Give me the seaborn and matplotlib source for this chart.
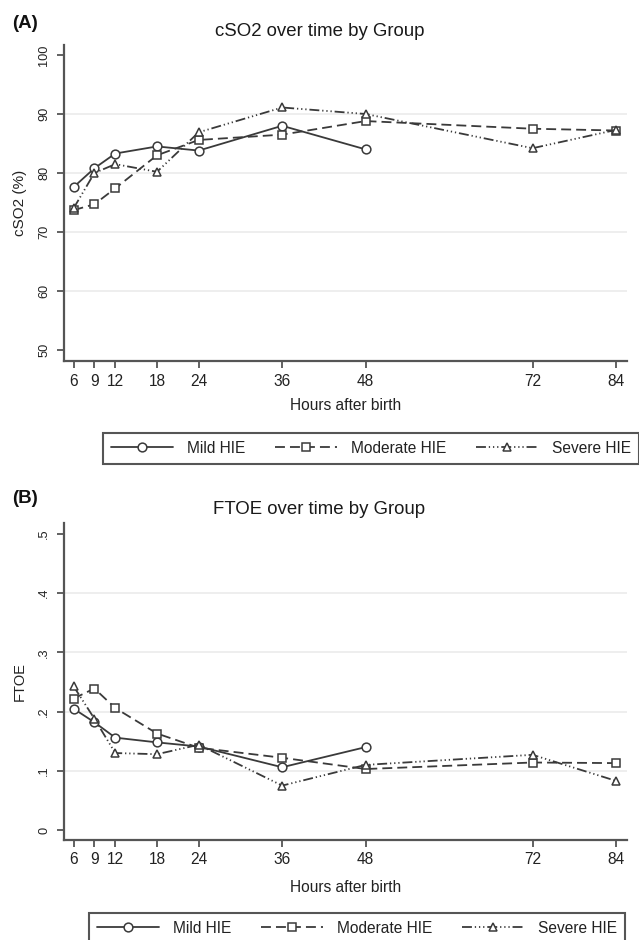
import numpy as np
import pandas as pd
import matplotlib
matplotlib.use("Agg")
import matplotlib.pyplot as plt
import seaborn as sns

# ---------------- data ----------------
hours = [6, 9, 12, 18, 24, 36, 48, 72, 84]
groups = ["Mild HIE", "Moderate HIE", "Severe HIE"]

cso2_mild = [77.6, 80.8, 83.3, 84.5, 83.8, 88.0, 84.0]
cso2_moderate = [73.7, 74.7, 77.4, 83.0, 85.6, 86.5, 88.8, 87.5, 87.2]
cso2_severe = [74.0, 80.0, 81.5, 80.2, 86.9, 91.1, 90.0, 84.2, 87.3]

ftoe_mild = [0.205, 0.182, 0.156, 0.148, 0.141, 0.106, 0.140]
ftoe_moderate = [0.222, 0.239, 0.206, 0.163, 0.139, 0.122, 0.103, 0.114, 0.113]
ftoe_severe = [0.243, 0.188, 0.130, 0.128, 0.144, 0.075, 0.110, 0.127, 0.083]

cso2_yticks = [50, 60, 70, 80, 90, 100]
cso2_yticklabels = ["50", "60", "70", "80", "90", "100"]
ftoe_yticks = [0, 0.1, 0.2, 0.3, 0.4, 0.5]
ftoe_yticklabels = ["0", ".1", ".2", ".3", ".4", ".5"]


def to_long(series_list):
    rows = []
    for g, vals in zip(groups, series_list):
        for h, v in zip(hours, vals):
            rows.append({"hours": h, "value": v, "group": g})
    return pd.DataFrame(rows)


df_cso2 = to_long([cso2_mild, cso2_moderate, cso2_severe])
df_ftoe = to_long([ftoe_mild, ftoe_moderate, ftoe_severe])

# ---------------- style ----------------
sns.set_theme(style="white")
REG = ["Liberation Sans", "DejaVu Sans"]
plt.rcParams["font.family"] = REG

LINE = "#3a3a3a"
AXC = "#555555"
GRID = "#ebebeb"
TXT = "#222222"

markers = {"Mild HIE": "o", "Moderate HIE": "s", "Severe HIE": "^"}
dashes = {"Mild HIE": "",
          "Moderate HIE": (5.5, 2.8),
          "Severe HIE": (5.5, 1.6, 0.7, 1.6, 0.7, 1.6, 0.7, 1.6)}

W, H = 639, 940
fig = plt.figure(figsize=(W / 100, H / 100), dpi=100)


def fx(px):
    return px / W


def fy(py):
    return 1 - py / H


def make_panel(df, top, bottom, ylim, yticks, yticklabels, ylabel, ylabel_size,
               title, title_y, letter, letter_y, xlabel_y, leg_x0, leg_top):
    left, right = 64, 627
    ax = fig.add_axes([fx(left), fy(bottom), fx(right - left), (bottom - top) / H])
    sns.lineplot(data=df, x="hours", y="value", style="group",
                 markers=markers, dashes=dashes, color=LINE,
                 markerfacecolor="white", markeredgecolor=LINE,
                 markeredgewidth=1.1, markersize=6.3, linewidth=1.3,
                 errorbar=None, legend=False, ax=ax)
    ax.set_xlim(4.63, 85.58)
    ax.set_ylim(*ylim)
    ax.set_xticks(hours)
    ax.set_xticklabels([str(h) for h in hours])
    ax.set_yticks(yticks)
    ax.set_yticklabels(yticklabels)
    for s in ["top", "right"]:
        ax.spines[s].set_visible(False)
    for s in ["left", "bottom"]:
        ax.spines[s].set_color(AXC)
        ax.spines[s].set_linewidth(1.6)
    ax.tick_params(axis="x", length=5, width=1.3, color=AXC, pad=4,
                   labelsize=11.2, labelcolor=TXT, bottom=True)
    ax.tick_params(axis="y", length=5, width=1.3, color=AXC, pad=5,
                   labelsize=9.2, labelcolor=TXT, labelrotation=90, left=True)
    for lab in ax.get_yticklabels():
        lab.set_va("center")
    ax.yaxis.grid(True, color=GRID, linewidth=1.2)
    ax.xaxis.grid(False)
    ticks = ax.yaxis.get_major_ticks()
    ticks[0].gridline.set_visible(False)
    ticks[-1].gridline.set_visible(False)
    ax.set_xlabel("Hours after birth", fontsize=11.2, color=TXT)
    ax.xaxis.set_label_coords(0.5, -(xlabel_y - bottom) / (bottom - top))
    ax.xaxis.label.set_va("center")
    ax.set_ylabel(ylabel, fontsize=ylabel_size, color=TXT)
    ax.yaxis.set_label_coords(-(left - 20) / (right - left), 0.5)
    ax.yaxis.label.set_va("center")
    fig.text(0.5, fy(title_y), title, ha="center", va="center",
             fontsize=13.4, color="#1a1a1a")
    fig.text(fx(12), fy(letter_y), letter, ha="left", va="center",
             fontsize=13.5, fontweight="bold", color="#111111")
    handles = ax.get_lines()[:3]
    hbox = 31 / H
    leg = fig.legend(handles, groups, loc="upper left", ncol=3, mode="expand",
                     bbox_to_anchor=(fx(leg_x0), fy(leg_top) - hbox, fx(536), hbox),
                     bbox_transform=fig.transFigure, fontsize=11.2,
                     handlelength=4.0, handletextpad=0.9, borderpad=0.5,
                     borderaxespad=0, fancybox=False, framealpha=1,
                     edgecolor=AXC)
    leg.get_frame().set_linewidth(1.5)
    for t in leg.get_texts():
        t.set_color(TXT)
    return ax


make_panel(df_cso2, 45, 361, (48.14, 101.69), cso2_yticks, cso2_yticklabels,
           "cSO2 (%)", 11, "cSO2 over time by Group", 32, "(A)", 24, 406,
           103, 433)
make_panel(df_ftoe, 523, 840, (-0.0169, 0.5186), ftoe_yticks, ftoe_yticklabels,
           "FTOE", 10.5, "FTOE over time by Group", 509, "(B)", 498, 887,
           89, 913)

fig.savefig("out.png", dpi=100)
